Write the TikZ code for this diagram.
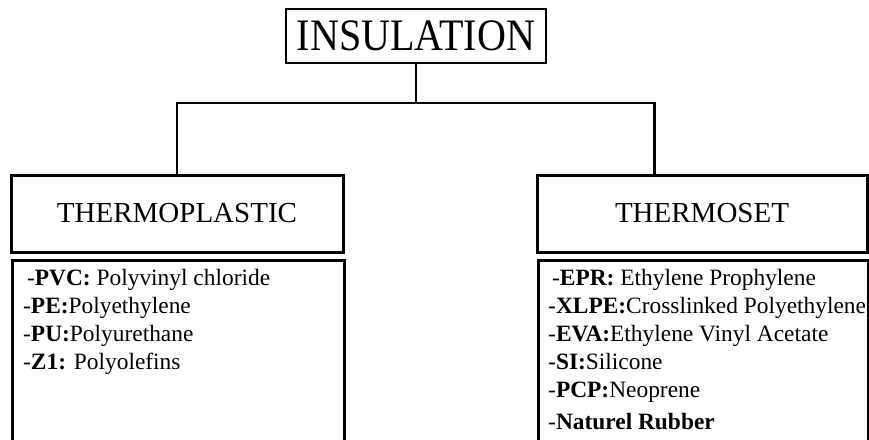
\documentclass[tikz,border=0pt]{standalone}
\usepackage{fontspec}
\setmainfont{Liberation Serif}
\usetikzlibrary{positioning,calc}

\begin{document}
\begin{tikzpicture}[x=1pt, y=-1pt, line join=miter,
    titlebox/.style={draw, line width=2.5pt, minimum width=260pt, minimum height=54pt, inner sep=0pt, font=\fontsize{45}{45}\selectfont},
    headbox/.style={draw, line width=3pt, minimum height=77pt, inner sep=0pt, font=\fontsize{29}{30}\selectfont},
    listbox/.style={draw, line width=3pt, anchor=north west, minimum height=220pt, inner sep=0pt},
    items/.style={anchor=north west, align=left, inner sep=0pt, font=\fontsize{23.4}{28}\selectfont},
    link/.style={line width=2.5pt}]
    \useasboundingbox (0,0) rectangle (869,439);
    \clip (0,0) rectangle (869,439);

    % root
    \node[titlebox] (ins) at (416,36) {\scalebox{0.89}[1]{INSULATION}};

    % the two families
    \node[headbox, minimum width=332pt] (tp) at (177,213.5) {THERMOPLASTIC};
    \node[headbox, minimum width=330pt] (ts) at (702,213.5) {THERMOSET};

    % boxes holding the materials (cut off by the page)
    \node[listbox, minimum width=332pt] (tpl) at (11,259) {};
    \node[listbox, minimum width=330pt] (tsl) at (537,259) {};

    \node[items, below right=10pt and 12pt of tpl.north west] (tpitems) {%
        \,-\textbf{PVC:} Polyvinyl chloride\\
        -\textbf{PE:}Polyethylene\\
        -\textbf{PU:}Polyurethane\\
        -\textbf{Z1:} Polyolefins};
    \node[items, below right=10pt and 11pt of tsl.north west] (tsitems) {%
        \,-\textbf{EPR:} Ethylene Prophylene\\
        -\textbf{XLPE:}Crosslinked Polyethylene\\
        -\textbf{EVA:}Ethylene Vinyl Acetate\\
        -\textbf{SI:}Silicone\\
        -\textbf{PCP:}Neoprene\\[4pt]
        -\textbf{Naturel Rubber}};

    % tree connectors
    \coordinate (fork) at (416,103);
    \coordinate (rjoin) at ($(ts.north west)!0.357!(ts.north east)$);
    \draw[link] (ins) -- (fork);
    \draw[link] (tp.north) |- (fork) -| (rjoin);
\end{tikzpicture}
\end{document}
